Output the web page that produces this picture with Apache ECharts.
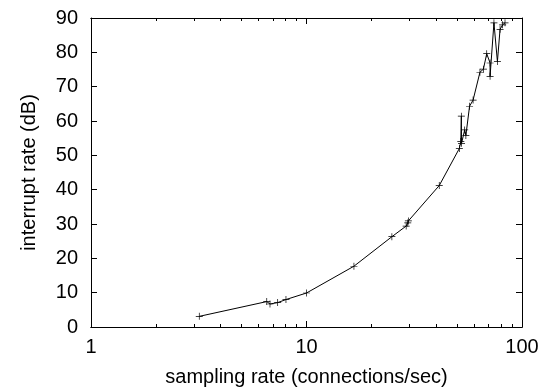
<!DOCTYPE html>
<html>
<head>
<meta charset="utf-8">
<script src="https://cdn.jsdelivr.net/npm/echarts@6/dist/echarts.min.js"></script>
<style>html,body{margin:0;padding:0;background:#fff;}#c{width:542px;height:392px;}</style>
</head>
<body>
<div id="c"></div>
<script>
var xValues = [3.18, 6.54, 6.77, 7.35, 8.03, 10.0, 16.6, 24.9, 29.0, 29.5, 29.7, 41.3, 51.2, 52.0, 52.3, 52.4, 54.2, 54.9, 57.1, 59.3, 63.8, 66.2, 68.6, 71.1, 71.1, 74.1, 76.9, 79.1, 81.3, 83.4];
var yValues = [3.1, 7.4, 6.7, 7.1, 8.0, 9.9, 17.7, 26.3, 29.4, 30.3, 30.9, 41.2, 52.0, 54.0, 61.4, 53.5, 57.4, 55.8, 64.3, 66.1, 74.2, 75.1, 79.6, 76.9, 73.0, 88.6, 77.3, 86.7, 88.0, 88.6];
var xMajorTicks = [1, 10, 100];
var xMinorTicks = [2,3,4,5,6,7,8,9,20,30,40,50,60,70,80,90];
var xTitle = 'sampling rate (connections/sec)';
var yTitle = 'interrupt rate (dB)';

var font = 'Liberation Sans, Arial, sans-serif';
var fs = 20;
var data = xValues.map(function (x, i) { return [x, yValues[i]]; });
function xAx(pos, ticks, len, labels) {
  return {
    type: 'log', logBase: 10, min: 1, max: 100, position: pos,
    axisLine: { show: true, lineStyle: { color: '#000', width: 1 } },
    axisTick: { show: true, inside: true, length: len, customValues: ticks, lineStyle: { color: '#000' } },
    axisLabel: { show: labels, customValues: xMajorTicks, color: '#000', fontSize: fs, fontFamily: font, margin: 10, formatter: function (v) { return String(Math.round(v)); } },
    splitLine: { show: false },
    name: labels ? xTitle : '', nameLocation: 'middle', nameGap: 40,
    nameTextStyle: { color: '#000', fontSize: fs, fontFamily: font }
  };
}
function yAx(pos, labels) {
  return {
    type: 'value', min: 0, max: 90, interval: 10, position: pos,
    axisLine: { show: true, lineStyle: { color: '#000', width: 1 } },
    axisTick: { show: true, inside: true, length: 6, lineStyle: { color: '#000' } },
    axisLabel: { show: labels, color: '#000', fontSize: fs, fontFamily: font, margin: 13 },
    splitLine: { show: false },
    name: labels ? yTitle : '', nameLocation: 'middle', nameGap: 52, nameRotate: 90,
    nameTextStyle: { color: '#000', fontSize: fs, fontFamily: font }
  };
}
var chart = echarts.init(document.getElementById('c'), null, { renderer: 'canvas' });
chart.setOption({
  animation: false,
  backgroundColor: '#fff',
  grid: { left: 91, right: 20, top: 18, bottom: 63, containLabel: false },
  xAxis: [
    xAx('bottom', xMajorTicks, 6, true),
    xAx('bottom', xMinorTicks, 3, false),
    xAx('top', xMajorTicks, 6, false),
    xAx('top', xMinorTicks, 3, false)
  ],
  yAxis: [yAx('left', true), yAx('right', false)],
  series: [{
    type: 'line', xAxisIndex: 0, yAxisIndex: 0, data: data,
    symbol: 'path://M0,4.5h10v1h-10zM4.5,0h1v10h-1z', symbolSize: 7,
    itemStyle: { color: '#000' },
    lineStyle: { color: '#000', width: 1 }
  }]
});
</script>
</body>
</html>
